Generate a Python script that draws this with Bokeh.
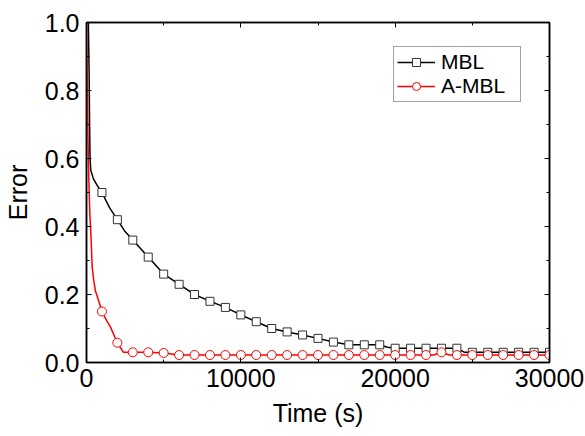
from bokeh.plotting import figure
from bokeh.models import (Range1d, LinearAxis, FixedTicker, NumeralTickFormatter,
                          CustomJSTickFormatter, Legend, LegendItem)
from bokeh.embed import file_html
from bokeh.resources import INLINE

# ---- data ----
mbl_t = [0, 120, 170, 200, 230, 280, 450, 700, 1000, 1500, 2000, 2500, 3000, 3500,
         4000, 4500, 5000, 5500, 6000, 6500, 7000, 7500, 8000, 9000, 10000, 11000,
         12000, 13000, 14000, 15000, 16000, 17000, 18000, 19000, 19500, 20000, 21000,
         22000, 23000, 24000, 24500, 25000, 26000, 27000, 28000, 29000, 30000]
mbl_err = [1.0, 1.0, 0.85, 0.70, 0.60, 0.565, 0.54, 0.52, 0.50, 0.455, 0.42, 0.385, 0.36,
           0.335, 0.31, 0.285, 0.26, 0.245, 0.23, 0.215, 0.20, 0.19, 0.18, 0.162, 0.14,
           0.12, 0.10, 0.09, 0.081, 0.071, 0.06, 0.052, 0.052, 0.052, 0.045, 0.042, 0.042,
           0.042, 0.042, 0.042, 0.03, 0.03, 0.03, 0.03, 0.03, 0.03, 0.03]

mbl_mk_t = [1000, 2000, 3000, 4000, 5000, 6000, 7000, 8000, 9000, 10000, 11000, 12000,
            13000, 14000, 15000, 16000, 17000, 18000, 19000, 20000, 21000, 22000, 23000,
            24000, 25000, 26000, 27000, 28000, 29000, 30000]
mbl_mk_err = [0.50, 0.42, 0.36, 0.31, 0.26, 0.23, 0.20, 0.18, 0.162, 0.14, 0.12, 0.10,
              0.09, 0.081, 0.071, 0.06, 0.052, 0.052, 0.052, 0.042, 0.042, 0.042, 0.042,
              0.042, 0.03, 0.03, 0.03, 0.03, 0.03, 0.03]

ambl_t = [0, 60, 100, 150, 215, 300, 370, 475, 580, 800, 1000, 1300, 1555, 2000, 2400,
          3000, 4000, 5000, 5500, 6000, 10000, 15000, 20000, 22500, 23000, 23500,
          25000, 30000]
ambl_err = [1.0, 0.80, 0.65, 0.54, 0.44, 0.36, 0.28, 0.24, 0.21, 0.18, 0.15, 0.124,
            0.104, 0.058, 0.03, 0.03, 0.03, 0.028, 0.025, 0.022, 0.022, 0.022, 0.022,
            0.022, 0.03, 0.022, 0.022, 0.022]

ambl_mk_t = mbl_mk_t
ambl_mk_err = [0.15, 0.058, 0.03, 0.03, 0.028, 0.022, 0.022, 0.022, 0.022, 0.022, 0.022,
               0.022, 0.022, 0.022, 0.022, 0.022, 0.022, 0.022, 0.022, 0.022, 0.022,
               0.022, 0.03, 0.022, 0.022, 0.022, 0.022, 0.022, 0.022, 0.022]

x_ticks = [0, 10000, 20000, 30000]
x_minor = [5000, 15000, 25000]
y_ticks = [0.0, 0.2, 0.4, 0.6, 0.8, 1.0]
y_minor = [0.1, 0.3, 0.5, 0.7, 0.9]

FONT = "Liberation Sans"
TICK_FS = "25px"

p = figure(width=585, height=436, output_backend="svg", toolbar_location=None,
           x_range=Range1d(0, 30000), y_range=Range1d(0, 1.0),
           min_border_left=86, min_border_right=36, min_border_top=22, min_border_bottom=74,
           x_axis_label="Time (s)", y_axis_label="Error")
p.xgrid.visible = False
p.ygrid.visible = False
p.outline_line_color = "black"
p.outline_line_width = 1.5

def style_axis(ax, ticks, minor, show_labels):
    ax.ticker = FixedTicker(ticks=ticks, minor_ticks=minor)
    ax.axis_line_color = "black"
    ax.axis_line_width = 1.5
    ax.major_tick_in = 5
    ax.major_tick_out = 0
    ax.minor_tick_in = 3
    ax.minor_tick_out = 0
    ax.major_tick_line_color = "black"
    ax.minor_tick_line_color = "black"
    ax.major_tick_line_width = 1
    ax.minor_tick_line_width = 1
    ax.major_label_text_font = FONT
    ax.major_label_text_color = "black"
    ax.axis_label_text_font = FONT
    ax.axis_label_text_font_style = "normal"
    ax.axis_label_text_font_size = "25px"
    ax.axis_label_text_color = "black"
    if show_labels:
        ax.major_label_text_font_size = TICK_FS
    else:
        ax.formatter = CustomJSTickFormatter(code="return ''")
        ax.major_label_text_font_size = "8px"
        ax.major_label_standoff = 0

style_axis(p.xaxis[0], x_ticks, x_minor, True)
style_axis(p.yaxis[0], y_ticks, y_minor, True)
p.xaxis[0].formatter = NumeralTickFormatter(format="0")
p.yaxis[0].formatter = NumeralTickFormatter(format="0.0")
p.xaxis[0].major_label_standoff = 6
p.yaxis[0].major_label_standoff = 7
p.xaxis[0].axis_label_standoff = 9
p.yaxis[0].axis_label_standoff = 10

top = LinearAxis()
style_axis(top, x_ticks, x_minor, False)
p.add_layout(top, "above")
right = LinearAxis()
style_axis(right, y_ticks, y_minor, False)
p.add_layout(right, "right")

# ---- series ----
l1 = p.line(mbl_t, mbl_err, line_color="black", line_width=1.5)
s1 = p.scatter(mbl_mk_t, mbl_mk_err, marker="square", size=8, line_color="#333333",
               line_width=1, fill_color="white")
l2 = p.line(ambl_t, ambl_err, line_color="red", line_width=1.5)
s2 = p.scatter(ambl_mk_t, ambl_mk_err, marker="circle", size=9, line_color="red",
               line_width=1, fill_color="white")

legend = Legend(items=[LegendItem(label="MBL", renderers=[l1, s1]),
                       LegendItem(label="A-MBL", renderers=[l2, s2])],
                location=(307, 260))
legend.label_text_font = FONT
legend.label_text_font_size = "21px"
legend.label_text_color = "black"
legend.border_line_color = "#444444"
legend.border_line_width = 1
legend.background_fill_alpha = 1
legend.glyph_width = 38
legend.glyph_height = 20
legend.label_height = 20
legend.label_width = 76
legend.label_standoff = 6
legend.spacing = 0
legend.padding = 3
legend.margin = 0
p.add_layout(legend, "center")

open("out.html", "w").write(file_html(p, INLINE))
